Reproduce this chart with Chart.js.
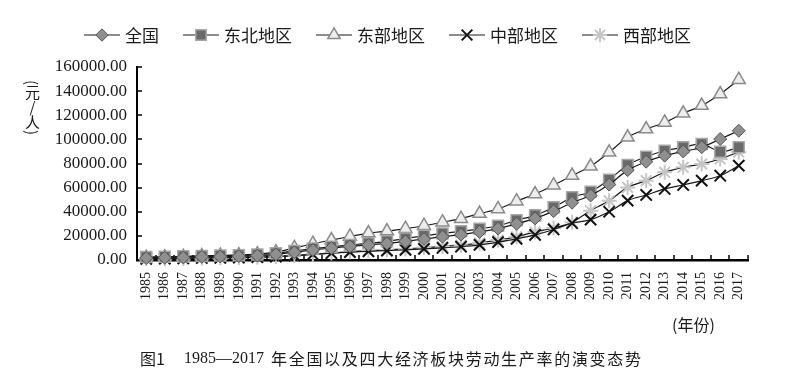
<!DOCTYPE html>
<html><head><meta charset="utf-8">
<script src="https://cdn.jsdelivr.net/npm/chart.js@4.4.1/dist/chart.umd.min.js"></script>
<style>
html,body{margin:0;padding:0;background:#fff;}
#wrap{position:relative;width:795px;height:384px;overflow:hidden;background:#fff;}
canvas{position:absolute;left:0;top:0;}
.t{position:absolute;color:#1a1a1a;white-space:nowrap;line-height:20px;}
</style></head><body>
<div id="wrap">
<canvas id="c" width="795" height="384"></canvas>
<div class="t" id="ytitle" style="left:23px;top:80px;writing-mode:vertical-rl;text-orientation:mixed;font-size:15px;font-family:'Noto Sans CJK SC';line-height:18px;">(元<span style="text-orientation:upright;">/</span>人)</div>
<div class="t" style="left:672px;top:314px;font-size:16px;font-family:'Noto Sans CJK SC';">(年份)</div>
<div class="t" style="left:140px;top:348px;font-size:16px;font-family:'Noto Sans CJK SC';">图1</div>
<div class="t" style="left:184px;top:348px;font-size:16px;font-family:'Liberation Serif';">1985—2017</div>
<div class="t" style="left:271px;top:348px;font-size:16px;font-family:'Noto Sans CJK SC';letter-spacing:1.7px;">年全国以及四大经济板块劳动生产率的演变态势</div>
</div>
<script>
const years = ['1985','1986','1987','1988','1989','1990','1991','1992','1993','1994','1995','1996','1997','1998','1999','2000','2001','2002','2003','2004','2005','2006','2007','2008','2009','2010','2011','2012','2013','2014','2015','2016','2017'];
const seriesNames = ['全国','东北地区','东部地区','中部地区','西部地区'];
const national = [1600,1800,2100,2600,2900,3200,3700,4700,6400,8300,9900,11300,12500,13800,15400,17400,19300,21000,23300,26000,30000,34500,40500,47500,53500,62500,74500,81500,86500,90000,93500,100300,107200];
const northeast = [2500,2700,3000,3400,3700,4000,4500,5600,7500,9500,11000,12500,13800,15500,17800,20000,22000,23800,25800,28400,33000,37000,43700,52000,56600,66600,78800,85600,90600,93400,96200,89800,93400];
const east = [2000,2300,2700,3300,3700,4100,4800,6500,10000,13500,16500,19500,22300,24000,26000,28400,31300,34300,38500,42300,48800,54700,62000,70000,77700,89300,101700,108600,114000,121600,128000,137600,149500];
const central = [1000,1150,1350,1650,1850,2050,2300,2800,3600,4600,5600,6500,7200,7800,8400,9200,10000,11000,12500,14800,17500,20800,25300,30500,33500,40000,49200,53900,58900,62200,65800,69900,78200];
const west = [950,1100,1300,1600,1800,2000,2300,2800,3700,4800,5900,6900,7700,8400,9200,10300,11200,12300,14000,16500,19200,23300,26500,31300,40900,49200,60200,65800,72700,76800,79600,83700,89500];
const yMin = 0, yMax = 160000, yStep = 20000;

const seriesData = [national, northeast, east, central, west];
const markerStyles = [
  {pointStyle:'rectRot', radius:6.5, bg:'#8f8f8f', border:'#555555', bw:1},
  {pointStyle:'rect', radius:7.8, bg:'#6a6a6a', border:'#a8a8a8', bw:1.5},
  {pointStyle:'triangle', radius:7.5, bg:'#ededed', border:'#8a8a8a', bw:1.5},
  {pointStyle:'crossRot', radius:8, bg:'#111111', border:'#111111', bw:2},
  {pointStyle:'star', radius:7.5, bg:'#c6c6c6', border:'#c6c6c6', bw:2}
];

const datasets = seriesNames.map((name,i)=>({
  label:name,
  data:seriesData[i],
  borderColor:'#1a1a1a',
  borderWidth:1.2,
  tension:0.3,
  fill:false,
  pointStyle:markerStyles[i].pointStyle,
  pointRadius:markerStyles[i].radius,
  pointBackgroundColor:markerStyles[i].bg,
  pointBorderColor:markerStyles[i].border,
  pointBorderWidth:markerStyles[i].bw,
  clip:false
}));

const legendPlugin = {
  id:'customLegend',
  afterDraw(chart){
    const ctx = chart.ctx;
    ctx.save();
    ctx.font = '17px "Noto Sans CJK SC"';
    ctx.textBaseline = 'middle';
    let x = 84; const y = 35;
    chart.data.datasets.forEach(ds=>{
      ctx.strokeStyle = '#1a1a1a'; ctx.lineWidth = 1.2;
      ctx.beginPath(); ctx.moveTo(x,y); ctx.lineTo(x+36,y); ctx.stroke();
      ctx.fillStyle = ds.pointBackgroundColor; ctx.strokeStyle = ds.pointBorderColor; ctx.lineWidth = ds.pointBorderWidth;
      Chart.helpers.drawPoint(ctx,{pointStyle:ds.pointStyle,radius:ds.pointRadius*0.95,rotation:0,borderWidth:ds.pointBorderWidth},x+18,y);
      ctx.fillStyle = '#1a1a1a';
      ctx.fillText(ds.label, x+41, y+1);
      x += 41 + ctx.measureText(ds.label).width + 24;
    });
    ctx.restore();
  }
};

const tickPlugin = {
  id:'insideTicks',
  beforeDatasetsDraw(chart){
    const {ctx, scales:{x,y}, chartArea:ca} = chart;
    ctx.save(); ctx.strokeStyle = '#000'; ctx.lineWidth = 1.5;
    y.ticks.forEach(t=>{
      const py = Math.round(y.getPixelForValue(t.value));
      ctx.beginPath(); ctx.moveTo(ca.left, py); ctx.lineTo(ca.left+5, py); ctx.stroke();
    });
    const n = years.length;
    for (let i=0;i<=n;i++){
      let px;
      if (i===0) px = ca.left; else if (i===n) px = ca.right;
      else px = (x.getPixelForValue(i-1)+x.getPixelForValue(i))/2;
      px = Math.round(px);
      ctx.beginPath(); ctx.moveTo(px, ca.bottom); ctx.lineTo(px, ca.bottom-5); ctx.stroke();
    }
    ctx.restore();
  }
};

new Chart(document.getElementById('c'),{
  type:'line',
  data:{labels:years, datasets},
  options:{
    responsive:false, animation:false, devicePixelRatio:1,
    layout:{padding:{top:67,right:47,left:0,bottom:0}},
    plugins:{legend:{display:false}, tooltip:{enabled:false}},
    scales:{
      x:{type:'category', offset:true,
         grid:{display:false, offset:true, drawTicks:false},
         border:{display:true,color:'#000',width:2.5},
         ticks:{minRotation:90,maxRotation:90,autoSkip:false,padding:12,color:'#1a1a1a',font:{family:'Liberation Serif',size:14}},
         afterFit(s){s.height=124;}},
      y:{min:yMin,max:yMax,
         ticks:{stepSize:yStep,padding:10,color:'#1a1a1a',font:{family:'Liberation Serif',size:17},callback:v=>Number(v).toFixed(2)},
         grid:{display:false, drawTicks:false},
         border:{display:true,color:'#000',width:2},
         afterFit(s){s.width=137;}}
    }
  },
  plugins:[tickPlugin, legendPlugin]
});
</script>
</body></html>
